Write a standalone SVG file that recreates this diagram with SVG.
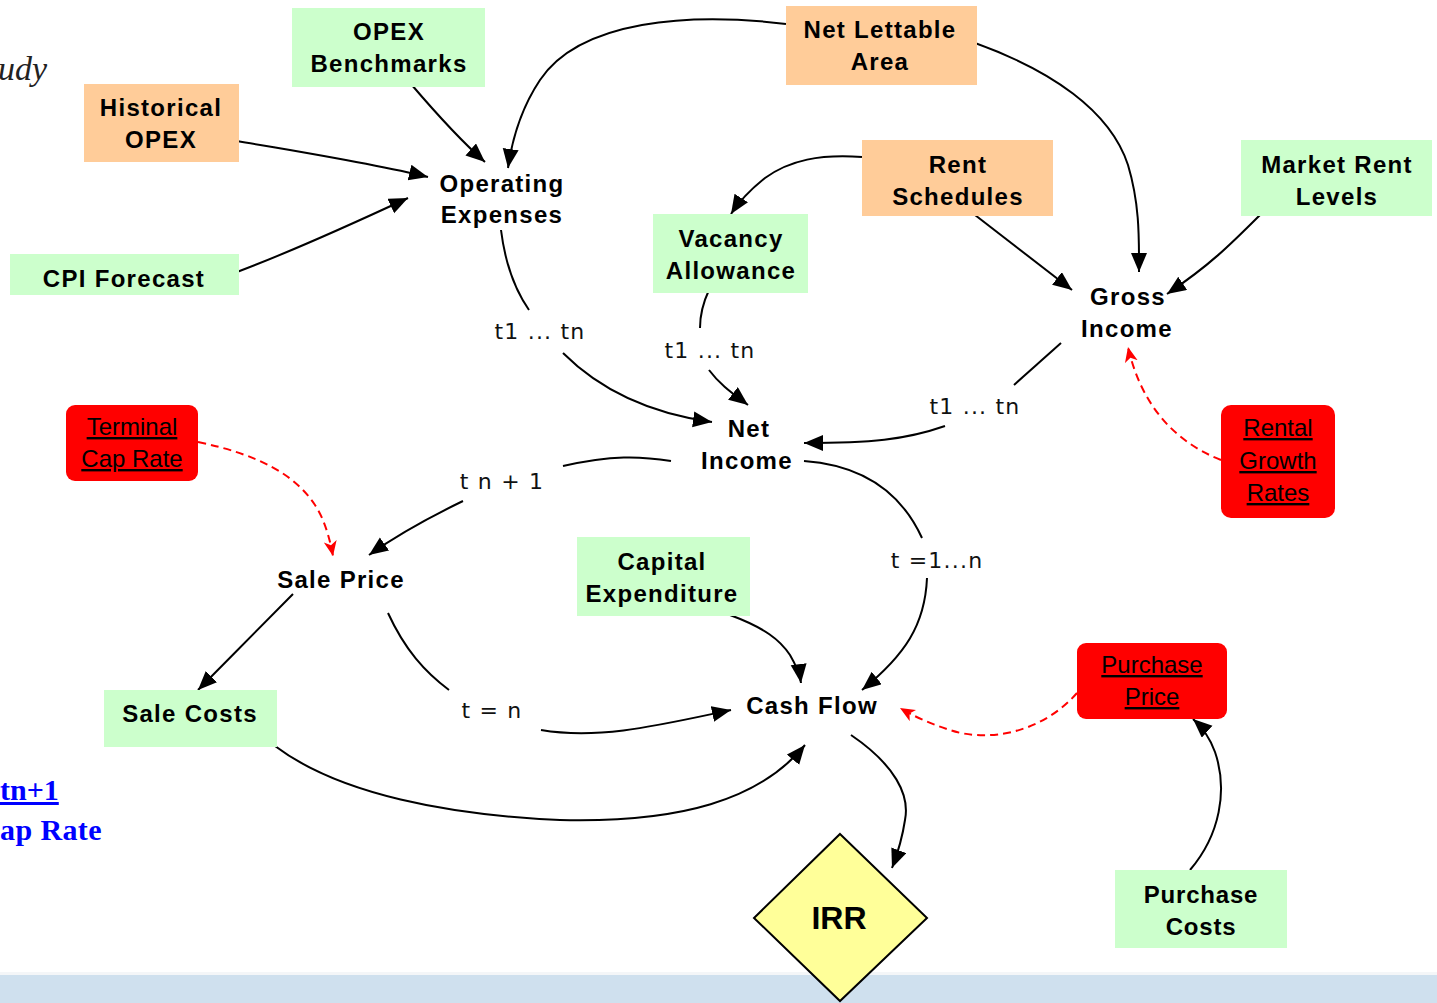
<svg xmlns="http://www.w3.org/2000/svg" width="1437" height="1003" viewBox="0 0 1437 1003">
<style>
.g{fill:#ccffcc}
.o{fill:#ffcc99}
.r{fill:#ff0000}
.n{font-family:"Liberation Sans",Arial,sans-serif;font-weight:bold;font-size:24px;letter-spacing:1.3px;text-anchor:middle;fill:#000}
.u{font-family:"Liberation Sans",Arial,sans-serif;font-size:24px;text-anchor:middle;fill:#000;text-decoration:underline}
.l{font-family:"DejaVu Sans",Verdana,sans-serif;font-size:22px;letter-spacing:1.2px;text-anchor:middle;fill:#111}
.c{fill:none;stroke:#000;stroke-width:2}
.d{fill:none;stroke:#ff0000;stroke-width:2;stroke-dasharray:8,5}
.ca{marker-end:url(#ab)}
.da{marker-end:url(#ar)}
</style>
<defs>
<marker id="ab" markerUnits="userSpaceOnUse" markerWidth="22" markerHeight="18" refX="19" refY="8" orient="auto"><path d="M0,0 L19,8 L0,16 z" fill="#000"/></marker>
<marker id="ar" markerUnits="userSpaceOnUse" markerWidth="16" markerHeight="14" refX="15" refY="6.5" orient="auto"><path d="M0,0 L15,6.5 L0,13 L4,6.5 z" fill="#ff0000"/></marker>
</defs>
<rect x="0" y="0" width="1437" height="1003" fill="#fff"/>
<rect x="0" y="975" width="1437" height="28" fill="#cfe0ee"/>
<rect x="0" y="972" width="1437" height="3" fill="#f4f6f8"/>

<text x="-2" y="80" font-family="Liberation Serif,serif" font-style="italic" font-size="34" fill="#222">udy</text>
<text x="0" y="800" font-family="Liberation Serif,serif" font-weight="bold" font-size="30" fill="#0000ff" text-decoration="underline">tn+1</text>
<text x="0" y="840" font-family="Liberation Serif,serif" font-weight="bold" font-size="30" fill="#0000ff" letter-spacing="0.4">ap Rate</text>

<g id="connectors">
<path class="c ca" d="M411,84 C440,118 460,140 485,162"/>
<path class="c ca" d="M237,141 C300,152 370,163 428,177"/>
<path class="c ca" d="M237,272 C290,252 350,225 408,198"/>
<path class="c ca" d="M786,24 C690,12 580,20 540,80 C520,110 512,140 508,168"/>
<path class="c ca" d="M975,43 C1050,70 1110,110 1128,165 C1140,205 1139,240 1139,272"/>
<path class="c ca" d="M862,157 C820,154 790,160 765,178 C750,190 740,200 731,214"/>
<path class="c ca" d="M975,215 L1072,290"/>
<path class="c ca" d="M1260,215 C1230,245 1210,265 1167,294"/>
<path class="c" d="M501,230 C505,262 515,290 529,310"/>
<path class="c ca" d="M563,353 C595,385 640,412 712,422"/>
<path class="c" d="M709,290 C702,305 700,315 700,328"/>
<path class="c ca" d="M709,370 C720,385 735,395 748,405"/>
<path class="c" d="M1061,343 L1014,385"/>
<path class="c ca" d="M945,426 C905,440 870,443 804,443"/>
<path class="c" d="M671,461 C640,456 612,455 563,466"/>
<path class="c ca" d="M463,501 C430,517 400,533 369,555"/>
<path class="c" d="M804,461 C860,465 900,490 922,538"/>
<path class="c ca" d="M927,578 C925,625 905,655 862,690"/>
<path class="c ca" d="M293,594 C260,627 230,658 198,690"/>
<path class="c" d="M388,613 C405,650 425,672 449,690"/>
<path class="c ca" d="M541,730 C600,740 660,725 731,710"/>
<path class="c ca" d="M730,615 C765,628 780,640 790,655 C797,667 800,675 801,683"/>
<path class="c ca" d="M275,746 C340,795 450,815 560,820 C680,823 760,800 805,745"/>
<path class="c ca" d="M1190,870 C1220,835 1228,790 1215,752 C1210,738 1203,728 1193,719"/>
<path class="c ca" d="M851,735 C895,765 910,795 905,820 C902,840 897,855 892,868"/>
<path class="d da" d="M198,442 C260,455 295,475 315,505 C325,520 330,540 333,556"/>
<path class="d da" d="M1221,460 C1170,440 1140,400 1128,347"/>
<path class="d da" d="M1077,693 C1040,735 985,742 950,730 C925,722 912,715 900,708"/>
</g>

<g id="labels">
<text class="l" x="540" y="339">t1 ... tn</text>
<text class="l" x="710" y="358">t1 ... tn</text>
<text class="l" x="975" y="414">t1 ... tn</text>
<text class="l" x="502" y="489">t n + 1</text>
<text class="l" x="937" y="568">t =1...n</text>
<text class="l" x="492" y="718">t = n</text>
</g>

<g id="opex-benchmarks"><rect class="g" x="292" y="8" width="193" height="79"/><text class="n" x="389" y="40">OPEX</text><text class="n" x="389" y="72">Benchmarks</text></g>
<g id="historical-opex"><rect class="o" x="84" y="84" width="155" height="78"/><text class="n" x="161" y="116">Historical</text><text class="n" x="161" y="148">OPEX</text></g>
<g id="cpi-forecast"><rect class="g" x="10" y="254" width="229" height="41"/><text class="n" x="124" y="287">CPI Forecast</text></g>
<g id="net-lettable-area"><rect class="o" x="786" y="6" width="191" height="79"/><text class="n" x="880" y="38">Net Lettable</text><text class="n" x="880" y="70">Area</text></g>
<g id="operating-expenses"><text class="n" x="502" y="192">Operating</text><text class="n" x="502" y="223">Expenses</text></g>
<g id="rent-schedules"><rect class="o" x="862" y="140" width="191" height="76"/><text class="n" x="958" y="173">Rent</text><text class="n" x="958" y="205">Schedules</text></g>
<g id="market-rent-levels"><rect class="g" x="1241" y="140" width="191" height="76"/><text class="n" x="1337" y="173">Market Rent</text><text class="n" x="1337" y="205">Levels</text></g>
<g id="vacancy-allowance"><rect class="g" x="653" y="214" width="155" height="79"/><text class="n" x="731" y="247">Vacancy</text><text class="n" x="731" y="279">Allowance</text></g>
<g id="gross-income"><text class="n" x="1128" y="305">Gross</text><text class="n" x="1127" y="337">Income</text></g>
<g id="net-income"><text class="n" x="749" y="437">Net</text><text class="n" x="747" y="469">Income</text></g>
<g id="terminal-cap-rate"><rect class="r" x="66" y="405" width="132" height="76" rx="9"/><text class="u" x="132" y="435">Terminal</text><text class="u" x="132" y="467">Cap Rate</text></g>
<g id="rental-growth-rates"><rect class="r" x="1221" y="405" width="114" height="113" rx="10"/><text class="u" x="1278" y="436">Rental</text><text class="u" x="1278" y="469">Growth</text><text class="u" x="1278" y="501">Rates</text></g>
<g id="sale-price"><text class="n" x="341" y="588">Sale Price</text></g>
<g id="capital-expenditure"><rect class="g" x="577" y="537" width="173" height="79"/><text class="n" x="662" y="570">Capital</text><text class="n" x="662" y="602">Expenditure</text></g>
<g id="sale-costs"><rect class="g" x="104" y="690" width="173" height="57"/><text class="n" x="190" y="722">Sale Costs</text></g>
<g id="cash-flow"><text class="n" x="812" y="714">Cash Flow</text></g>
<g id="purchase-price"><rect class="r" x="1077" y="643" width="150" height="76" rx="9"/><text class="u" x="1152" y="673">Purchase</text><text class="u" x="1152" y="705">Price</text></g>
<g id="purchase-costs"><rect class="g" x="1115" y="870" width="172" height="78"/><text class="n" x="1201" y="903" style="letter-spacing:0.8px">Purchase</text><text class="n" x="1201" y="935" style="letter-spacing:0.8px">Costs</text></g>
<g id="irr"><path d="M840,834 L927,918 L840,1001 L754,918 z" fill="#ffff99" stroke="#000" stroke-width="2"/><text class="n" x="839" y="929" style="font-size:32px;letter-spacing:0">IRR</text></g>
</svg>
